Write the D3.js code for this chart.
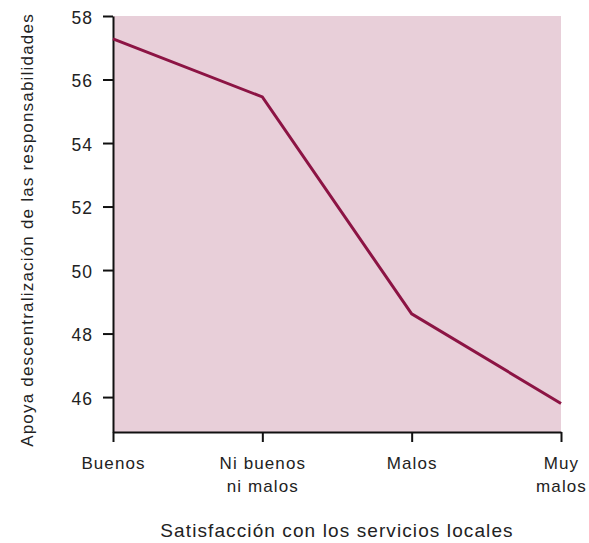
<!DOCTYPE html>
<html><head><meta charset="utf-8">
<script src="https://cdn.jsdelivr.net/npm/d3@7"></script>
<style>body{margin:0;background:#fff}svg{display:block}text{font-family:"Liberation Sans",Arial,sans-serif;fill:#222}</style>
</head><body><div id="c"></div>
<script>
const categories = ["Buenos", "Ni buenos\nni malos", "Malos", "Muy\nmalos"];
const values = [57.28, 55.45, 48.62, 45.8];
const yTicks = [46, 48, 50, 52, 54, 56, 58];
const xTitle = "Satisfacción con los servicios locales";
const yTitle = "Apoya descentralización de las responsabilidades";

const W = 589, H = 543;
const m = {left: 113, right: 28, top: 16, bottom: 111};
const svg = d3.select("#c").append("svg").attr("width", W).attr("height", H);
const x = d3.scalePoint().domain(categories).range([m.left, W - m.right]);
const y = d3.scaleLinear().domain([44.9, 58]).range([H - m.bottom, m.top]);

svg.append("rect").attr("x", m.left).attr("y", m.top)
  .attr("width", W - m.right - m.left).attr("height", H - m.bottom - m.top)
  .attr("fill", "#e8cfd9");

const yAxis = svg.append("g").attr("transform", `translate(${m.left},0)`)
  .call(d3.axisLeft(y).tickValues(yTicks).tickSize(10).tickPadding(10).tickSizeOuter(0));
const xAxis = svg.append("g").attr("transform", `translate(0,${H - m.bottom})`)
  .call(d3.axisBottom(x).tickSize(10).tickSizeOuter(0).tickFormat(""));
[yAxis, xAxis].forEach(g => {
  g.select(".domain").attr("stroke", "#111").attr("stroke-width", 2);
  g.selectAll(".tick line").attr("stroke", "#111").attr("stroke-width", 2);
});
yAxis.selectAll(".tick text").style("font-size", "17.5px").style("letter-spacing", "1px")
  .attr("dy", "7px").attr("fill", "#222");

xAxis.selectAll(".tick").each(function(d) {
  const lines = d.split("\n");
  const t = d3.select(this).append("text").attr("text-anchor", "middle")
    .style("font-size", "17px").style("letter-spacing", "1.1px").attr("fill", "#222");
  lines.forEach((l, i) => t.append("tspan").attr("x", 0).attr("y", 37 + i * 23).text(l));
});

svg.append("path").datum(values)
  .attr("d", d3.line().x((d, i) => x(categories[i])).y(d => y(d)))
  .attr("fill", "none").attr("stroke", "#8c1444").attr("stroke-width", 3);

svg.append("text").attr("x", (m.left + W - m.right) / 2).attr("y", 537)
  .attr("text-anchor", "middle").style("font-size", "19px").style("letter-spacing", "1.1px").text(xTitle);
svg.append("text").attr("transform", `translate(33,230) rotate(-90)`)
  .attr("text-anchor", "middle").style("font-size", "17px").style("letter-spacing", "1.2px").text(yTitle);
</script></body></html>
